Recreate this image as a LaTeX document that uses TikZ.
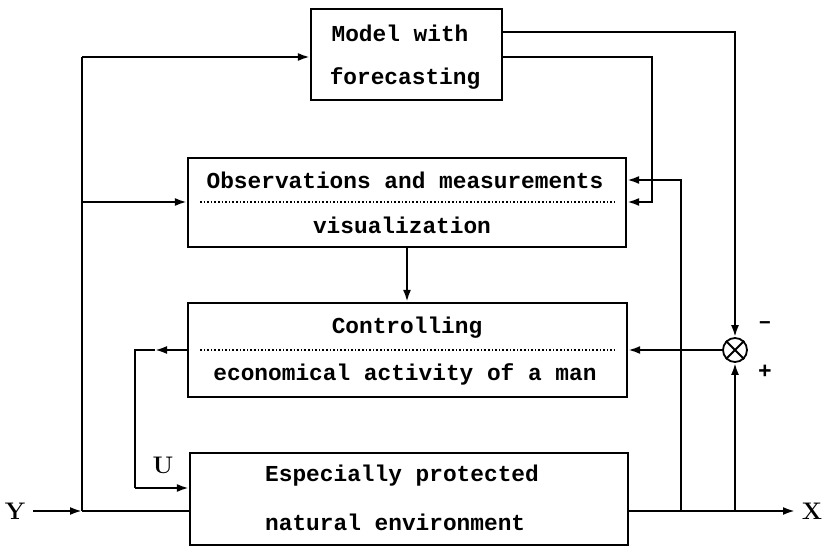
\documentclass[tikz,border=0pt]{standalone}
\usepackage{fontspec}
\newfontfamily\tw{Liberation Mono}
\usetikzlibrary{arrows.meta}
\tikzset{
  box/.style={draw, line width=2.2pt, rectangle, inner sep=0pt},
  txt/.style={font=\tw\bfseries\fontsize{22.8}{26}\selectfont, inner sep=0pt},
  lbl/.style={font=\bfseries\fontsize{24}{28}\selectfont, inner sep=0pt},
  ln/.style={line width=2.2pt},
  arr/.style={line width=2.2pt, -{Latex[length=12pt,width=8pt]}},
  sep/.style={line width=1.6pt, dotted}
}
\begin{document}
\begin{tikzpicture}[x=1pt,y=-1pt]
\useasboundingbox (0,0) rectangle (825,548);
% boxes
\node[box, minimum width=191pt, minimum height=91pt] (model) at (406.5,54.5) {};
\node[box, minimum width=438pt, minimum height=89pt] (obs) at (407,202.5) {};
\node[box, minimum width=439pt, minimum height=94pt] (ctrl) at (407.5,350) {};
\node[box, minimum width=438pt, minimum height=92pt] (env) at (409,499) {};
\node[draw, circle, line width=1.8pt, minimum size=24pt, inner sep=0pt] (sum) at (735,350) {};
\draw[line width=1.8pt] (sum.north west) -- (sum.south east) (sum.north east) -- (sum.south west);
% texts
\node[txt] (t1) at (400,33) {Model with};
\node[txt] (t2) at (405,78) {forecasting};
\node[txt] (t3) at (405,180) {Observations and measurements};
\node[txt] (t4) at (402,225) {visualization};
\node[txt] (t5) at (407,328) {Controlling};
\node[txt] (t6) at (405,374) {economical activity of a man};
\node[txt, anchor=west] (t7) at (265,476) {Especially protected};
\node[txt, anchor=west] (t8) at (265,522) {natural environment};
\draw[sep] (200,202) -- (615,202);
\draw[sep] (200,350) -- (615,350);
% labels
\node[lbl] (Y) at (15,511) {Y};
\node[lbl] (X) at (812,511) {X};
\node[lbl] (U) at (163,465) {U};
\node[txt] (minus) at (765,325) {–};
\node[txt] (plus) at (765,372) {+};
% coordinates
\coordinate (jy) at (82,511);
\coordinate (jtop) at (82,57);
\coordinate (jobs) at (82,202);
\coordinate (ul) at (135,350);
\coordinate (ulm) at (155,350);
\coordinate (ub) at (135,488);
\coordinate (o1) at (681,511);
\coordinate (o2) at (735,511);
\coordinate (xend) at (795,511);
% connectors
\draw[arr] (Y.east) ++(8,0) -- (jy);
\draw[ln] (jy) -- (env.west |- jy);
\draw[ln] (jy) -- (jtop);
\draw[arr] (jtop) -- (model.west |- jtop);
\draw[arr] (jobs) -- (obs.west |- jobs);
\draw[arr] (obs.south -| 407,0) -- (ctrl.north -| 407,0);
\draw[arr] (ctrl.west) -- (ulm);
\draw[ln] (ulm) -- (ul) -- (ub);
\draw[arr] (ub) -- (env.west |- ub);
\draw[arr] (env.east |- o1) -- (xend);
\draw[arr] (o1) -- (681,180) -- (obs.east |- 0,180);
\draw[arr] (o2) -- (sum.south);
\draw[arr] (model.east |- 0,32) -- (735,32) -- (sum.north);
\draw[arr] (model.east |- 0,57) -- (652,57) -- (652,202) -- (obs.east |- 0,202);
\draw[arr] (sum.west) -- (ctrl.east);
\end{tikzpicture}
\end{document}
